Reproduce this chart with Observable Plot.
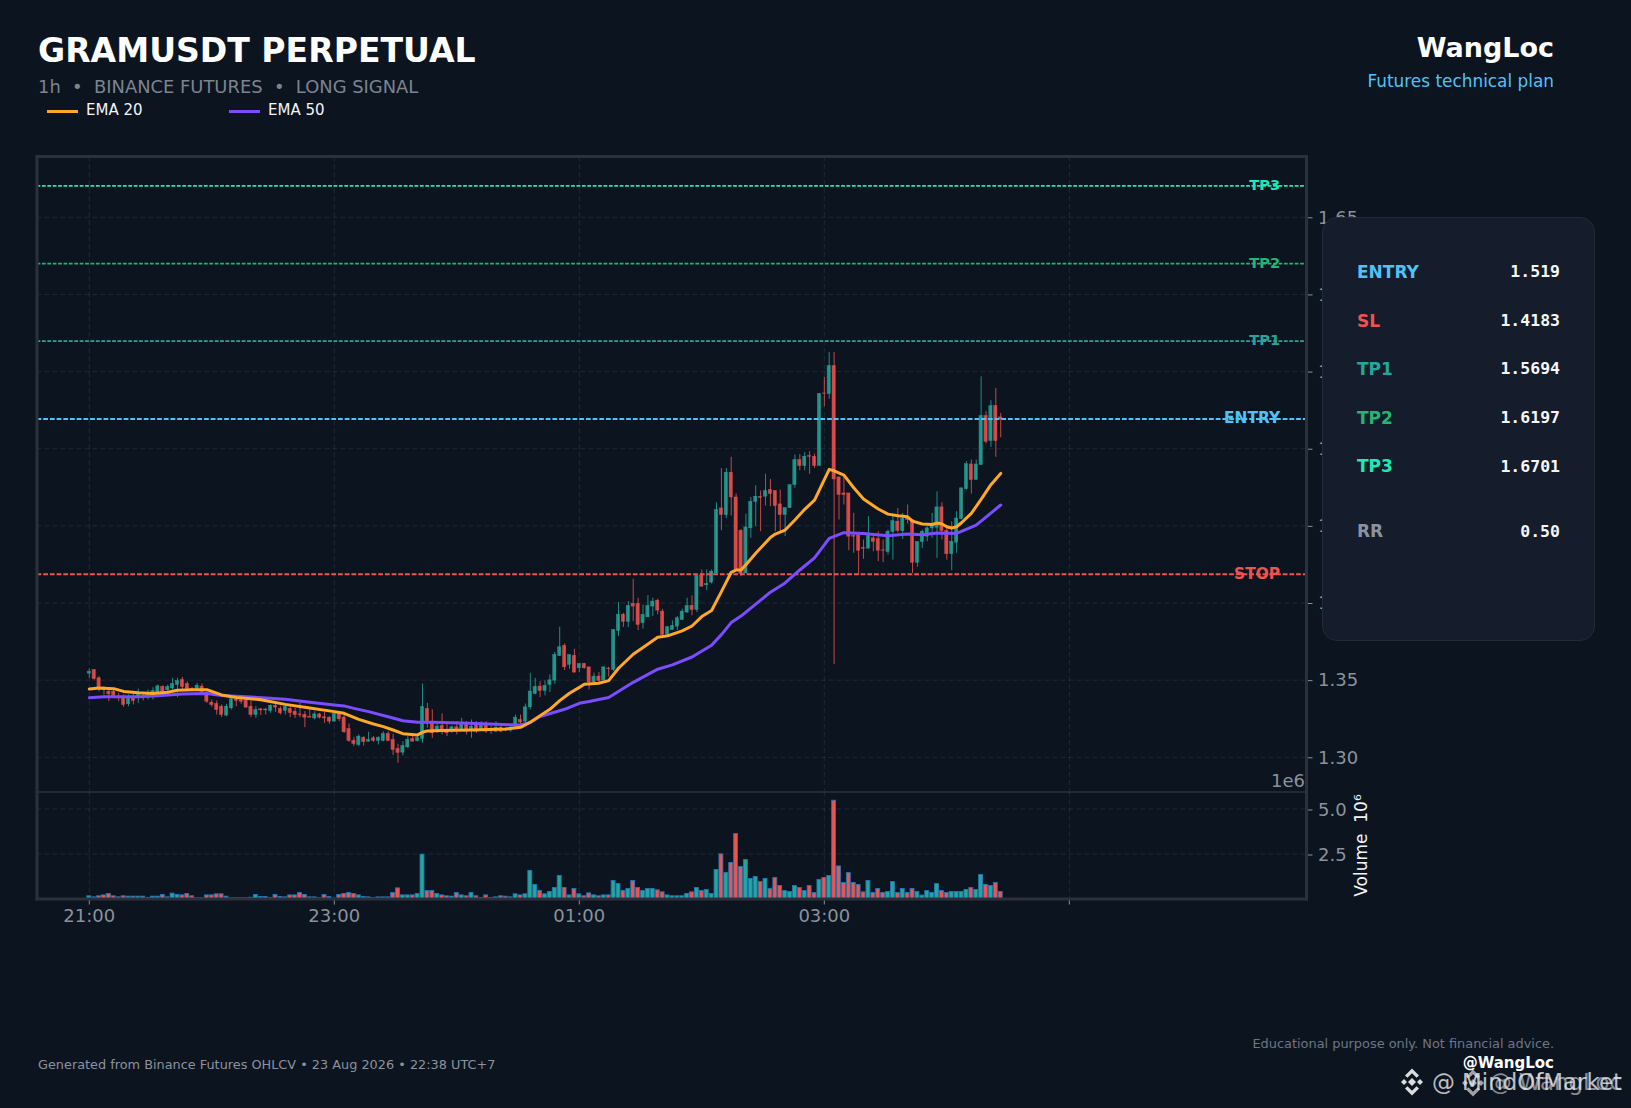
<!DOCTYPE html>
<html><head><meta charset="utf-8">
<script src="https://cdn.jsdelivr.net/npm/d3@7"></script>
<script src="https://cdn.jsdelivr.net/npm/@observablehq/plot@0.6"></script>
<style>
html,body{margin:0;padding:0;background:#0c1420;}
#page{position:relative;width:1631px;height:1108px;overflow:hidden;background:#0c1420;font-family:"DejaVu Sans",sans-serif;}
#page>*{position:absolute;}
.t{white-space:pre;line-height:1;}
#panel{left:1322px;top:217px;width:273px;height:424px;box-sizing:border-box;background:#151c2b;border:1.5px solid #232a38;border-radius:15px;}
</style></head><body>
<div id="page"></div>
<script>
const opens=[1.3542,1.3566,1.3512,1.3451,1.3425,1.3425,1.3391,1.3386,1.3343,1.3386,
1.3382,1.3393,1.3391,1.3393,1.3417,1.3455,1.3434,1.3447,1.3468,1.3501,
1.3475,1.3442,1.3442,1.3458,1.3408,1.3354,1.3345,1.3328,1.3270,1.3317,
1.3373,1.3369,1.3367,1.3328,1.3274,1.3311,1.3309,1.3300,1.3334,1.3313,
1.3300,1.3313,1.3296,1.3278,1.3274,1.3261,1.3252,1.3278,1.3259,1.3257,
1.3231,1.3281,1.3257,1.3183,1.3106,1.3080,1.3125,1.3101,1.3123,1.3106,
1.3106,1.3151,1.3112,1.3054,1.3030,1.3065,1.3117,1.3104,1.3119,1.3313,
1.3231,1.3177,1.3203,1.3177,1.3177,1.3194,1.3177,1.3220,1.3177,1.3209,
1.3181,1.3203,1.3171,1.3166,1.3192,1.3181,1.3173,1.3209,1.3242,1.3231,
1.3324,1.3411,1.3458,1.3430,1.3469,1.3497,1.3657,1.3722,1.3599,1.3657,
1.3577,1.3605,1.3583,1.3486,1.3523,1.3497,1.3575,1.3566,1.3819,1.3923,
1.3877,1.3994,1.3994,1.3869,1.3907,1.3977,1.4015,1.3944,1.3793,1.3825,
1.3847,1.3890,1.3938,1.3981,1.3955,1.4175,1.4115,1.4132,1.4192,1.4613,
1.4570,1.4844,1.4684,1.4468,1.4192,1.4484,1.4656,1.4687,1.4689,1.4732,
1.4726,1.4639,1.4570,1.4615,1.4764,1.4926,1.4888,1.4952,1.4948,1.4888,
1.5358,1.5354,1.5536,1.4814,1.4710,1.4710,1.4434,1.4440,1.4356,1.4352,
1.4419,1.4414,1.4341,1.4330,1.4460,1.4527,1.4466,1.4559,1.4538,1.4261,
1.4395,1.4430,1.4484,1.4488,1.4620,1.4466,1.4317,1.4391,1.4544,1.4738,
1.4898,1.4797,1.4894,1.5212,1.5050,1.5276,1.5203];
const closes=[1.3555,1.3507,1.3451,1.3436,1.3408,1.3399,1.3382,1.3339,1.3386,1.3365,
1.3404,1.3382,1.3404,1.3430,1.3460,1.3421,1.3455,1.3475,1.3494,1.3455,
1.3442,1.3436,1.3464,1.3425,1.3360,1.3339,1.3306,1.3274,1.3328,1.3376,
1.3365,1.3360,1.3322,1.3274,1.3306,1.3304,1.3304,1.3334,1.3322,1.3285,
1.3326,1.3287,1.3274,1.3274,1.3257,1.3257,1.3278,1.3257,1.3252,1.3231,
1.3281,1.3246,1.3162,1.3106,1.3086,1.3134,1.3099,1.3112,1.3106,1.3125,
1.3151,1.3106,1.3047,1.3028,1.3073,1.3112,1.3101,1.3125,1.3326,1.3220,
1.3155,1.3199,1.3177,1.3155,1.3194,1.3177,1.3209,1.3166,1.3199,1.3166,
1.3209,1.3166,1.3177,1.3192,1.3166,1.3173,1.3181,1.3257,1.3225,1.3324,
1.3426,1.3456,1.3430,1.3463,1.3499,1.3663,1.3713,1.3583,1.3663,1.3549,
1.3605,1.3577,1.3486,1.3523,1.3495,1.3583,1.3571,1.3825,1.3923,1.3877,
1.3981,1.3977,1.3858,1.3923,1.3981,1.4009,1.3951,1.3793,1.3843,1.3851,
1.3901,1.3944,1.3981,1.3955,1.4175,1.4106,1.4123,1.4203,1.4602,1.4570,
1.4844,1.4684,1.4214,1.4188,1.4490,1.4656,1.4689,1.4682,1.4726,1.4706,
1.4628,1.4570,1.4615,1.4764,1.4926,1.4888,1.4948,1.4948,1.4888,1.5354,
1.5356,1.5536,1.4801,1.4700,1.4700,1.4430,1.4430,1.4339,1.4352,1.4440,
1.4397,1.4339,1.4339,1.4462,1.4531,1.4468,1.4544,1.4538,1.4261,1.4395,
1.4462,1.4484,1.4505,1.4620,1.4466,1.4317,1.4397,1.4548,1.4743,1.4900,
1.4797,1.4898,1.5212,1.5045,1.5276,1.5050,1.5190];
const highs=[1.3572,1.3566,1.3522,1.3458,1.3442,1.3436,1.3414,1.3404,1.3404,1.3414,
1.3442,1.3414,1.3436,1.3451,1.3468,1.3464,1.3468,1.3512,1.3512,1.3518,
1.3490,1.3451,1.3479,1.3475,1.3425,1.3371,1.3365,1.3339,1.3343,1.3393,
1.3393,1.3393,1.3382,1.3365,1.3328,1.3317,1.3317,1.3339,1.3350,1.3328,
1.3334,1.3328,1.3317,1.3350,1.3296,1.3306,1.3296,1.3285,1.3291,1.3263,
1.3285,1.3296,1.3274,1.3216,1.3129,1.3145,1.3134,1.3162,1.3134,1.3134,
1.3166,1.3166,1.3149,1.3084,1.3101,1.3134,1.3145,1.3145,1.3475,1.3350,
1.3307,1.3231,1.3281,1.3231,1.3203,1.3231,1.3253,1.3231,1.3242,1.3231,
1.3231,1.3231,1.3199,1.3231,1.3199,1.3192,1.3209,1.3274,1.3274,1.3345,
1.3545,1.3512,1.3491,1.3495,1.3534,1.3679,1.3843,1.3735,1.3663,1.3700,
1.3605,1.3609,1.3583,1.3545,1.3549,1.3583,1.3583,1.3825,1.4003,1.3933,
1.4009,1.4154,1.4031,1.3987,1.4048,1.4031,1.4024,1.3959,1.3847,1.3884,
1.3912,1.3959,1.4031,1.4046,1.4175,1.4214,1.4214,1.4214,1.4650,1.4872,
1.4872,1.4944,1.4706,1.4477,1.4576,1.4684,1.4760,1.4726,1.4834,1.4801,
1.4726,1.4732,1.4615,1.4764,1.4959,1.4963,1.4974,1.4980,1.4965,1.5358,
1.5462,1.5624,1.5624,1.4814,1.4818,1.4710,1.4581,1.4440,1.4408,1.4559,
1.4430,1.4462,1.4408,1.4473,1.4559,1.4613,1.4581,1.4635,1.4538,1.4397,
1.4473,1.4494,1.4581,1.4721,1.4650,1.4484,1.4527,1.4592,1.4747,1.4916,
1.4926,1.4926,1.5466,1.5240,1.5311,1.5391,1.5229];
const lows=[1.3512,1.3501,1.3425,1.3404,1.3360,1.3382,1.3360,1.3324,1.3328,1.3339,
1.3350,1.3365,1.3371,1.3371,1.3408,1.3408,1.3408,1.3436,1.3386,1.3436,
1.3425,1.3425,1.3430,1.3414,1.3350,1.3324,1.3274,1.3257,1.3263,1.3306,
1.3328,1.3343,1.3317,1.3257,1.3252,1.3270,1.3274,1.3285,1.3291,1.3274,
1.3274,1.3257,1.3252,1.3257,1.3192,1.3257,1.3242,1.3248,1.3220,1.3214,
1.3227,1.3231,1.3155,1.3097,1.3069,1.3069,1.3073,1.3097,1.3097,1.3080,
1.3101,1.3101,1.3011,1.2961,1.3008,1.3058,1.3101,1.3101,1.3091,1.3188,
1.3123,1.3155,1.3145,1.3134,1.3155,1.3145,1.3166,1.3145,1.3123,1.3155,
1.3177,1.3155,1.3149,1.3160,1.3160,1.3166,1.3162,1.3188,1.3209,1.3209,
1.3307,1.3404,1.3387,1.3398,1.3419,1.3473,1.3653,1.3562,1.3571,1.3545,
1.3549,1.3571,1.3437,1.3480,1.3484,1.3497,1.3519,1.3555,1.3782,1.3841,
1.3841,1.3879,1.3821,1.3830,1.3907,1.3912,1.3923,1.3782,1.3787,1.3825,
1.3821,1.3886,1.3933,1.3918,1.3938,1.4102,1.4080,1.4123,1.4188,1.4468,
1.4548,1.4564,1.4209,1.4170,1.4192,1.4419,1.4494,1.4462,1.4628,1.4624,
1.4462,1.4462,1.4430,1.4613,1.4743,1.4857,1.4857,1.4834,1.4872,1.4888,
1.5272,1.5320,1.3602,1.4538,1.4635,1.4339,1.4322,1.4181,1.4283,1.4352,
1.4332,1.4268,1.4261,1.4311,1.4278,1.4456,1.4412,1.4512,1.4192,1.4231,
1.4354,1.4397,1.4419,1.4289,1.4408,1.4278,1.4209,1.4322,1.4538,1.4732,
1.4706,1.4797,1.4894,1.5030,1.5008,1.4944,1.5071];
const volumes=[.15,.09,.15,.2,.28,.15,.09,.15,.13,.13,
.13,.13,.06,.13,.13,.22,.09,.3,.22,.2,
.28,.15,.04,.04,.2,.2,.26,.26,.13,.04,
.04,.04,.04,.07,.22,.11,.11,.06,.22,.11,
.09,.2,.2,.33,.22,.09,.09,.04,.22,.11,
.02,.22,.28,.33,.28,.2,.11,.09,.06,.09,
.09,.09,.33,.59,.2,.2,.2,.28,2.46,.44,
.44,.28,.2,.15,.13,.33,.2,.15,.33,.15,
.06,.2,.06,.09,.15,.13,.09,.26,.2,.26,
1.56,.78,.44,.26,.39,.61,1.28,.61,.2,.56,
.26,.15,.31,.2,.15,.2,.2,1.0,.83,.44,
.56,1.0,.61,.44,.56,.56,.48,.37,.2,.15,
.15,.15,.28,.37,.61,.44,.5,.28,1.61,2.48,
1.44,2.0,3.61,1.78,2.17,1.11,1.22,.94,1.11,.56,
1.17,.72,.44,.39,.72,.61,.44,.72,.33,1.06,
1.17,1.28,5.46,1.81,.89,1.44,.89,.78,.37,1.0,
.33,.56,.33,.39,.94,.33,.56,.33,.56,.39,
.19,.44,.33,.83,.44,.33,.39,.39,.39,.5,
.61,.5,1.33,.78,.72,.89,.39];
const ema20Idx=[0,2,5,7,10,13,16,18,21,24,27,30,35,40,45,50,52,55,58,60,62,64,67,68,69,72,78,85,88,90,92,94,96,98,100,101,104,106,108,111,113,116,118,121,123,125,127,129,131,132,133,134,136,139,140,142,144,146,148,151,152,154,156,158,161,163,165,167,168,170,172,173,174,175,176,177,178,180,182,184,186];
const ema20=[1.3442,1.3449,1.3445,1.3427,1.3419,1.3414,1.3421,1.3434,1.3438,1.3438,1.3404,1.3388,1.3373,1.3343,1.3319,1.3296,1.3285,1.3246,1.3216,1.3199,1.3177,1.3153,1.3145,1.3162,1.3171,1.3173,1.3177,1.3183,1.3194,1.3227,1.3270,1.3311,1.3367,1.3415,1.3453,1.3473,1.3480,1.3497,1.3577,1.3668,1.3711,1.3778,1.3787,1.3819,1.3851,1.3912,1.3951,1.4074,1.4199,1.4214,1.4214,1.4248,1.4322,1.4425,1.4447,1.4473,1.4538,1.4607,1.4667,1.4866,1.4857,1.4829,1.4747,1.4674,1.4609,1.4576,1.4566,1.4559,1.4531,1.4512,1.4509,1.4518,1.4512,1.4494,1.4486,1.4494,1.4520,1.4581,1.4672,1.4767,1.4840];
const ema50Idx=[0,3,10,14,19,24,27,32,40,45,50,52,54,57,61,64,67,70,76,83,88,90,92,97,100,102,106,111,116,119,123,127,129,131,133,139,142,145,148,151,154,158,163,167,170,173,177,181,186];
const ema50=[1.3386,1.3393,1.3393,1.3399,1.3410,1.3414,1.3401,1.3393,1.3376,1.3356,1.3339,1.3333,1.3317,1.3296,1.3263,1.3237,1.3227,1.3227,1.3222,1.3214,1.3209,1.3225,1.3264,1.3311,1.3350,1.3361,1.3387,1.3486,1.3571,1.3599,1.3650,1.3726,1.3795,1.3873,1.3915,1.4070,1.4130,1.4214,1.4293,1.4419,1.4456,1.4451,1.4436,1.4447,1.4443,1.4453,1.4451,1.4505,1.4635];
const levelNames=["TP3","TP2","TP1","ENTRY","STOP"];
const levelValues=[1.6701,1.6197,1.5694,1.519,1.4183];
const levelColors=["#1de9b6","#22b573","#26a69a","#4fc3f7","#ef5350"];
const priceTicks=[1.30,1.35,1.40,1.45,1.50,1.55,1.60,1.65];
const volumeTicks=[2.5,5.0];
const xTicks=[0,50,100,150,200];
const xTickLabels=["21:00","23:00","01:00","03:00",""];
const panelLabels=["ENTRY","SL","TP1","TP2","TP3","RR"];
const panelValues=["1.519","1.4183","1.5694","1.6197","1.6701","0.50"];
const panelColors=["#4fc3f7","#ef5350","#26a69a","#22b573","#1de9b6","#8b92a0"];

const UP="#26a69a",DOWN="#ef5350",FRAME="#2a303c",MUTED="#8b929e",GRID="#ffffff";
const candles=opens.map((o,i)=>({i,o,c:closes[i],h:highs[i],l:lows[i],v:volumes[i],col:closes[i]>=o?UP:DOWN}));
const levels=levelNames.map((n,k)=>({n,v:levelValues[k],col:levelColors[k]}));
const isMain=d=>d.n==="ENTRY"||d.n==="STOP";
const e20=ema20Idx.map((i,k)=>({i,v:ema20[k]}));
const e50=ema50Idx.map((i,k)=>({i,v:ema50[k]}));
const xDomain=[-10.67,248.4];
const FF='"DejaVu Sans",sans-serif';
const grid=o=>({stroke:GRID,strokeOpacity:.085,strokeDasharray:"5,3",strokeWidth:1,...o});

const priceChart=Plot.plot({width:1631,height:641.5,marginLeft:36.5,marginRight:325,marginTop:6,marginBottom:0,
  style:{background:"transparent",overflow:"visible",fontFamily:FF},
  x:{domain:xDomain,axis:null},
  y:{domain:[1.2775,1.6894],axis:null},
  marks:[
    Plot.gridY(priceTicks,grid({})),
    Plot.gridX(xTicks,grid({})),
    Plot.ruleX(candles,{x:"i",y1:"l",y2:"h",stroke:"col",strokeOpacity:.82,strokeWidth:1}),
    Plot.rect(candles,{x1:d=>d.i-.33,x2:d=>d.i+.33,y1:"o",y2:"c",fill:"col",stroke:"col",strokeWidth:.5,fillOpacity:.82,strokeOpacity:.82}),
    Plot.ruleY(levels.filter(isMain),{y:"v",stroke:"col",strokeWidth:2,strokeDasharray:"4.8,1.9",dy:-.5}),
    Plot.ruleY(levels.filter(d=>!isMain(d)),{y:"v",stroke:"col",strokeWidth:1.8,strokeDasharray:"3.8,1.6",dy:-.5}),
    Plot.line(e50,{x:"i",y:"v",stroke:"#7c4dff",strokeWidth:3}),
    Plot.line(e20,{x:"i",y:"v",stroke:"#ffa726",strokeWidth:3}),
    Plot.text(levels,{x:243,y:"v",text:"n",fill:"col",textAnchor:"end",fontSize:d=>isMain(d)?15.4:14.6,fontWeight:"bold",dy:-1}),
    Plot.axisY(priceTicks,{anchor:"right",tickFormat:d=>d.toFixed(2),tickSize:5.5,tickPadding:6,fontSize:18,color:MUTED,label:null,dy:.5}),
    Plot.frame({anchor:"left",stroke:FRAME,strokeWidth:3}),
    Plot.frame({anchor:"right",stroke:FRAME,strokeWidth:3}),
    Plot.frame({anchor:"top",stroke:FRAME,strokeWidth:3}),
    Plot.frame({anchor:"bottom",stroke:FRAME,strokeWidth:1.5})
  ]});
const volumeChart=Plot.plot({width:1631,height:150,marginLeft:36.5,marginRight:325,marginTop:-.5,marginBottom:43.5,
  style:{background:"transparent",overflow:"visible",fontFamily:FF},
  x:{domain:xDomain,axis:null},
  y:{domain:[0,5.944],axis:null},
  marks:[
    Plot.gridY(volumeTicks,grid({})),
    Plot.gridX(xTicks,grid({})),
    Plot.rect(candles,{x1:d=>d.i-.4,x2:d=>d.i+.4,y1:0,y2:"v",fill:"col",stroke:"#1f77b4",strokeWidth:.9}),
    Plot.axisY(volumeTicks,{anchor:"right",tickFormat:d=>d.toFixed(1),tickSize:5.5,tickPadding:6,fontSize:18,color:MUTED,label:null,dy:1}),
    Plot.axisY([],{anchor:"right",tickSize:0,label:"Volume  10⁶",labelAnchor:"center",labelArrow:"none",labelOffset:60,fontSize:17,color:"#f2f4f7"}),
    Plot.axisX(xTicks,{anchor:"bottom",tickFormat:(d,k)=>xTickLabels[k],tickSize:6,tickPadding:4,fontSize:18,color:MUTED,label:null}),
    Plot.frame({anchor:"left",stroke:FRAME,strokeWidth:3}),
    Plot.frame({anchor:"right",stroke:FRAME,strokeWidth:3}),
    Plot.frame({anchor:"bottom",stroke:FRAME,strokeWidth:3})
  ]});
const page=document.getElementById("page");
priceChart.style.cssText+=";position:absolute;left:0;top:150px;";
volumeChart.style.cssText+=";position:absolute;left:0;top:792px;";
page.append(priceChart,volumeChart);

function txt(s,{x,r,y,size,color,bold,mono,op,family}){
  const e=document.createElement("div");e.className="t";e.textContent=s;
  e.style.cssText=`font-size:${size}px;color:${color};font-weight:${bold?"bold":"normal"};`
    +(x!=null?`left:${x}px;`:`right:${1631-r}px;`)
    +(mono?'font-family:"DejaVu Sans Mono",monospace;':"")
    +(family?`font-family:${family};`:"")+(op?`opacity:${op};`:"");
  e.style.top=(y-size*.81)+"px";
  page.append(e);return e;
}
txt("GRAMUSDT PERPETUAL",{x:38,y:61,size:33.1,color:"#fff",bold:true});
txt("1h  •  BINANCE FUTURES  •  LONG SIGNAL",{x:38,y:92,size:17.9,color:"#7d8490"});
txt("WangLoc",{r:1554,y:56,size:27,color:"#fff",bold:true});
txt("Futures technical plan",{r:1554,y:86.5,size:16.9,color:"#4fc3f7"});
function legend(x0,label,col){
  const l=document.createElement("div");l.style.cssText=`left:${x0}px;top:110px;width:31px;height:3px;background:${col};`;page.append(l);
  txt(label,{x:x0+39,y:115,size:15,color:"#f2f4f7"});
}
legend(47,"EMA 20","#ffa726");legend(229,"EMA 50","#7c4dff");
txt("1e6",{r:1305,y:787,size:18,color:MUTED});
const panel=document.createElement("div");panel.id="panel";page.append(panel);
const rowY=[277.5,326.5,374.5,423.5,472,537];
panelLabels.forEach((n,k)=>{
  txt(n,{x:1357,y:rowY[k],size:17,color:panelColors[k],bold:true});
  txt(panelValues[k],{r:1560,y:rowY[k],size:16.5,color:"#f5f6f8",bold:true,mono:true});
});
txt("Generated from Binance Futures OHLCV • 23 Aug 2026 • 22:38 UTC+7",{x:38,y:1069,size:12.85,color:"#8b929e"});
txt("Educational purpose only. Not financial advice.",{r:1554,y:1048,size:12.9,color:"#6f7683"});
function logo(cx,cy,op){
  const ns="http://www.w3.org/2000/svg",s=document.createElementNS(ns,"svg");
  s.setAttribute("width",30);s.setAttribute("height",30);s.setAttribute("viewBox","-15 -15 30 30");
  s.style.cssText=`left:${cx-15}px;top:${cy-15}px;opacity:${op};`;
  s.innerHTML='<g fill="#fff"><polygon points="0,-4 4,0 0,4 -4,0"/><polygon points="-11,0 -8,-3 -5,0 -8,3"/><polygon points="11,0 8,-3 5,0 8,3"/><polygon points="0,-13.5 7,-6.5 4.6,-4.2 0,-8.8 -4.6,-4.2 -7,-6.5"/><polygon points="0,13.5 7,6.5 4.6,4.2 0,8.8 -4.6,4.2 -7,6.5"/></g>';
  page.append(s);
}
logo(1412,1082,.85);logo(1473,1083,.6);
txt("@ MindOfMarket",{r:1622,y:1090,size:22.9,color:"#e8eaee",op:.8});
txt("@ WangLoc",{r:1622,y:1090,size:22.9,color:"#e8eaee",op:.55});
txt("@WangLoc",{r:1554,y:1068.5,size:15,color:"#fff",bold:true});
</script>
</body></html>
